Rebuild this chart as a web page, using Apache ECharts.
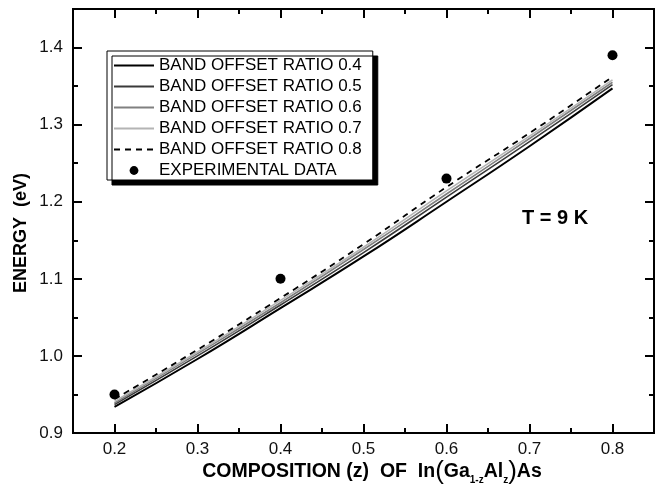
<!DOCTYPE html>
<html>
<head>
<meta charset="utf-8">
<script src="https://cdn.jsdelivr.net/npm/echarts@6/dist/echarts.min.js"></script>
<style>
  html, body { margin: 0; padding: 0; background: #fff; }
  #chart { width: 657px; height: 486px; }
</style>
</head>
<body>
<div id="chart"></div>
<script>
// Calculated transition energies vs. Al composition for several band offset ratios
const composition = [0.2, 0.3, 0.4, 0.5, 0.6, 0.7, 0.8];
const ratio04 = [0.934, 0.996, 1.062, 1.129, 1.200, 1.272, 1.347];
const ratio05 = [0.937, 1.000, 1.066, 1.134, 1.206, 1.278, 1.352];
const ratio06 = [0.939, 1.003, 1.069, 1.138, 1.210, 1.282, 1.355];
const ratio07 = [0.941, 1.005, 1.072, 1.141, 1.214, 1.285, 1.358];
const ratio08 = [0.944, 1.008, 1.075, 1.145, 1.219, 1.289, 1.362];

// Measured points
const expComposition = [0.2, 0.4, 0.6, 0.8];
const expEnergy = [0.95, 1.10, 1.23, 1.39];

// Tick positions
const xMajorTicks = [0.2, 0.3, 0.4, 0.5, 0.6, 0.7, 0.8];
const xMinorTicks = [0.25, 0.35, 0.45, 0.55, 0.65, 0.75];
const yMajorTicks = [0.9, 1.0, 1.1, 1.2, 1.3, 1.4];
const yMinorTicks = [0.95, 1.05, 1.15, 1.25, 1.35];

const seriesNames = [
  'BAND OFFSET RATIO 0.4',
  'BAND OFFSET RATIO 0.5',
  'BAND OFFSET RATIO 0.6',
  'BAND OFFSET RATIO 0.7',
  'BAND OFFSET RATIO 0.8',
  'EXPERIMENTAL DATA'
];

const FONT = "'Liberation Sans', Arial, Helvetica, sans-serif";
const X_MIN = 0.15, X_MAX = 0.85, Y_MIN = 0.9, Y_MAX = 1.45;

function pairs(xs, ys) { return xs.map((x, i) => [x, ys[i]]); }

// One axis per side for major ticks, one for minor ticks
function makeAxis(dim, position, ticks, len, withLabels, margin, extra) {
  const isX = dim === 'x';
  return Object.assign({
    type: 'value',
    position: position,
    min: isX ? X_MIN : Y_MIN,
    max: isX ? X_MAX : Y_MAX,
    splitLine: { show: false },
    axisLine: { show: true, onZero: false, lineStyle: { color: '#000', width: 2 } },
    axisTick: {
      show: true, inside: true, length: len, customValues: ticks,
      lineStyle: { color: '#000', width: 2 }
    },
    axisLabel: withLabels ? {
      show: true, customValues: ticks, margin: margin,
      color: '#111', fontSize: 17, fontFamily: FONT,
      formatter: v => v.toFixed(1)
    } : { show: false }
  }, extra || {});
}

const lineColors = ['#000000', '#3a3a3a', '#808080', '#b4b4b4', '#000000'];
const lineWidths = [2, 1.6, 1.6, 1.6, 1.8];
const curves = [ratio04, ratio05, ratio06, ratio07, ratio08];

const series = curves.map((vals, i) => ({
  name: seriesNames[i],
  type: 'line',
  smooth: true,
  symbol: 'none',
  data: pairs(composition, vals),
  lineStyle: {
    color: lineColors[i],
    width: lineWidths[i],
    type: i === 4 ? [6, 5] : 'solid'
  },
  itemStyle: { color: lineColors[i] },
  z: 3
}));

series.push({
  name: seriesNames[5],
  type: 'line',
  data: pairs(expComposition, expEnergy),
  symbol: 'circle',
  symbolSize: 10,
  showSymbol: true,
  lineStyle: { width: 0, opacity: 0 },
  itemStyle: { color: '#000' },
  z: 4
});

// Legend entries: curves show only their line sample, data shows only its dot
const legendData = seriesNames.map((name, i) => (
  i < 5 ? { name: name, itemStyle: { opacity: 0 } } : { name: name }
));

const chart = echarts.init(document.getElementById('chart'), null, { renderer: 'canvas' });

chart.setOption({
  animation: false,
  backgroundColor: '#fff',
  grid: { left: 73, right: 3, top: 9, bottom: 53, outerBoundsMode: 'none', containLabel: false },
  xAxis: [
    makeAxis('x', 'bottom', xMajorTicks, 9, true, 8, {
      name: '{b|COMPOSITION (z)  OF  In}{p|(}{b|Ga}{s|1-z}{b|Al}{s|z}{p|)}{b|As}',
      nameLocation: 'middle',
      nameGap: 26,
      nameMoveOverlap: false,
      nameTextStyle: {
        padding: [0, 0, 0, 17],
        rich: {
          b: { fontSize: 19.5, fontWeight: 'bold', fontFamily: FONT, color: '#000' },
          p: { fontSize: 26, fontFamily: FONT, color: '#000' },
          s: { fontSize: 10, fontWeight: 'bold', fontFamily: FONT, color: '#000',
               verticalAlign: 'bottom', padding: [12, 0, 0, 0] }
        }
      }
    }),
    makeAxis('x', 'bottom', xMinorTicks, 5, false),
    makeAxis('x', 'top', xMajorTicks, 9, false),
    makeAxis('x', 'top', xMinorTicks, 5, false)
  ],
  yAxis: [
    makeAxis('y', 'left', yMajorTicks, 9, true, 10, {
      name: 'ENERGY  (eV)',
      nameLocation: 'middle',
      nameGap: 43,
      nameMoveOverlap: false,
      nameTextStyle: {
        fontSize: 18, fontWeight: 'bold', fontFamily: FONT, color: '#000',
        padding: [0, 24, 0, 0]
      }
    }),
    makeAxis('y', 'left', yMinorTicks, 5, false),
    makeAxis('y', 'right', yMajorTicks, 9, false),
    makeAxis('y', 'right', yMinorTicks, 5, false)
  ],
  legend: {
    orient: 'vertical',
    left: 107,
    top: 51,
    itemWidth: 40,
    itemHeight: 11,
    itemGap: 4,
    padding: [6, 11, 1, 6],
    backgroundColor: '#fff',
    borderColor: '#000',
    borderWidth: 1,
    shadowColor: '#000',
    shadowBlur: 0,
    shadowOffsetX: 5,
    shadowOffsetY: 5,
    selectedMode: false,
    data: legendData,
    textStyle: { fontSize: 17, fontFamily: FONT, color: '#000' }
  },
  graphic: [{
    type: 'text',
    left: 522,
    top: 208,
    style: { text: 'T = 9 K', fontSize: 20, fontWeight: 'bold', fontFamily: FONT, fill: '#000' }
  }],
  series: series
});
</script>
</body>
</html>
